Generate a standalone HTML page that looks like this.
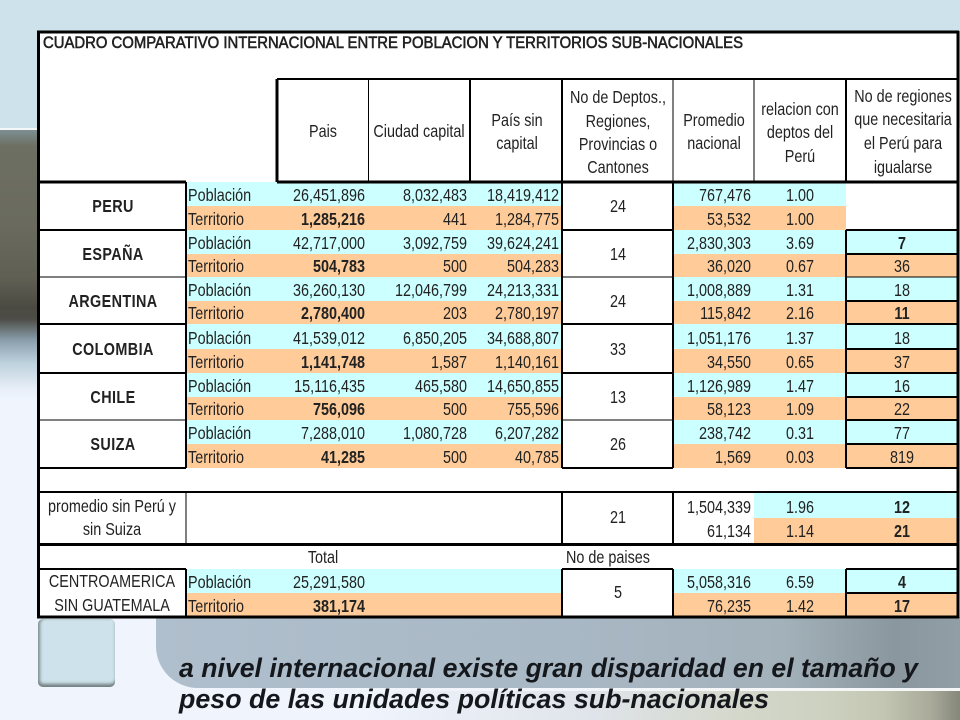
<!DOCTYPE html>
<html lang="es">
<head>
<meta charset="utf-8">
<title>Cuadro comparativo internacional</title>
<style>
html,body{margin:0;padding:0;width:960px;height:720px;overflow:hidden;background:#eff4fd}
.bg{position:absolute}
#sheet{position:absolute;left:0;top:0;width:960px;height:720px;filter:blur(0.3px)}
#sheet text{font-family:"Liberation Sans",sans-serif;font-size:18px;fill:#222}
#sheet rect{shape-rendering:crispEdges}
</style>
</head>
<body>
<div class="bg" style="left:0;top:0;width:960px;height:720px;background:#eff4fd"></div>
<div class="bg" style="left:0;top:0;width:960px;height:128px;background:#cde2ea"></div>
<div class="bg" style="left:0;top:128px;width:960px;height:2px;background:#f4f7f6"></div>
<div class="bg" style="left:0;top:130px;width:40px;height:270px;background:linear-gradient(180deg,#7d8f92 0,#6d6f62 6%,#6a6b5e 35%,#5f5f54 55%,#4b4a42 66%,#4d4d47 70%,#8ba0ad 78%,#bcd0dc 86%,#e8eff8 96%,#eff4fd 100%)"></div>
<div class="bg" style="left:156px;top:617px;width:804px;height:71px;border-bottom-left-radius:42px;background:linear-gradient(90deg,#b0bfcd 0,#a9b8c5 50%,#a3b1ba 78%,#8a979e 92%,#919ea6 100%)"></div>
<div class="bg" style="left:190px;top:688px;width:770px;height:3px;background:linear-gradient(90deg,rgba(244,246,248,0) 0,rgba(244,246,248,.6) 45%,#f4f6f8 75%)"></div>
<div class="bg" style="left:0;top:691px;width:960px;height:29px;background:linear-gradient(90deg,#eff4fd 0,#eff4fd 38%,#dfe4ea 62%,#d6dad0 74%,#cdd1bf 86%,#c3c6b3 92%,#a9aa9a 97%,#85877a 100%)"></div>
<div class="bg" style="left:38px;top:619px;width:77px;height:68px;box-sizing:border-box;border-radius:5px;background:#cde2ea;box-shadow:inset 3px 0 3px -1px #7f8d90,inset 0 -4px 3px -1px #6f7b7e"></div>
<svg id="sheet" xmlns="http://www.w3.org/2000/svg" width="960" height="720" viewBox="0 0 960 720"></svg>
<script>
const countries = ['PERU','ESPAÑA','ARGENTINA','COLOMBIA','CHILE','SUIZA'];
const popPais = ['26,451,896','42,717,000','36,260,130','41,539,012','15,116,435','7,288,010'];
const popCapital = ['8,032,483','3,092,759','12,046,799','6,850,205','465,580','1,080,728'];
const popSinCapital = ['18,419,412','39,624,241','24,213,331','34,688,807','14,650,855','6,207,282'];
const terrPais = ['1,285,216','504,783','2,780,400','1,141,748','756,096','41,285'];
const terrCapital = ['441','500','203','1,587','500','500'];
const terrSinCapital = ['1,284,775','504,283','2,780,197','1,140,161','755,596','40,785'];
const deptos = ['24','14','24','33','13','26'];
const popPromedio = ['767,476','2,830,303','1,008,889','1,051,176','1,126,989','238,742'];
const terrPromedio = ['53,532','36,020','115,842','34,550','58,123','1,569'];
const popRelacion = ['1.00','3.69','1.31','1.37','1.47','0.31'];
const terrRelacion = ['1.00','0.67','2.16','0.65','1.09','0.03'];
const popRegiones = ['','7','18','18','16','77'];
const terrRegiones = ['','36','11','37','22','819'];
const popRegionesBold = [false,true,false,false,false,false];
const terrRegionesBold = [false,false,true,false,false,false];

const NS = 'http://www.w3.org/2000/svg';
const sheet = document.getElementById('sheet');
const CYAN = '#ccffff';
const ORANGE = '#ffcc99';
const SX = 0.8;

function rect(name, x0, y0, x1, y1, fill) {
  const el = document.createElementNS(NS, 'rect');
  
  
  el.setAttribute('x', x0);
  el.setAttribute('y', y0);
  el.setAttribute('width', x1 - x0);
  el.setAttribute('height', y1 - y0);
  el.setAttribute('fill', fill);
  sheet.appendChild(el);
  return el;
}
function hline(name, x0, x1, y, w) {
  return rect(name, x0, y - w / 2, x1, y + w / 2, '#000');
}
function vline(name, x, y0, y1, w) {
  return rect(name, x - w / 2, y0, x + w / 2, y1, '#000');
}
function txt(name, s, x, y, anchor, bold) {
  const el = document.createElementNS(NS, 'text');
  
  
  el.setAttribute('transform', 'translate(' + x + ' ' + y + ') scale(' + SX + ' 1)');
  el.setAttribute('text-anchor', anchor);
  if (bold) el.setAttribute('font-weight', 'bold');
  el.textContent = s;
  sheet.appendChild(el);
  return el;
}
function rowY(i) { return 182 + Math.round(i * 47.6 - (i === 3 ? 0.8 : 0) + (i === 4 ? 0.6 : 0)); }

rect('table-background', 38, 31, 958, 617, '#ffffff');

countries.forEach(function (c, i) {
  const top = rowY(i), bot = rowY(i + 1), mid = Math.round((top + bot) / 2);
  const key = c.toLowerCase();
  rect(key + '-poblacion-band', 186, top, 562, mid, CYAN);
  rect(key + '-territorio-band', 186, mid, 562, bot, ORANGE);
  rect(key + '-promedio-poblacion-band', 673, top, 846, mid, CYAN);
  rect(key + '-promedio-territorio-band', 673, mid, 846, bot, ORANGE);
  if (popRegiones[i] !== '') {
    rect(key + '-regiones-poblacion-band', 846, top, 958, mid, CYAN);
    rect(key + '-regiones-territorio-band', 846, mid, 958, bot, ORANGE);
    hline(key + '-regiones-divider', 846, 958, mid, 2);
    hline(key + '-regiones-top', 846, 958, top, i === 2 ? 1 : 2);
  }
  const lw = (i === 2 || i === 5) ? 1 : 2;
  hline(key + '-name-top', 39, 186, top, i === 0 ? 3 : lw);
  hline(key + '-deptos-top', 562, 673, top, i === 0 ? 3 : lw);

  const b1 = mid - 5, b2 = bot - 5;
  txt(key + '-name', c, 113, mid + 6, 'middle', true).setAttribute('letter-spacing', '0.5');
  txt(key + '-poblacion-label', 'Población', 188, b1, 'start');
  txt(key + '-territorio-label', 'Territorio', 188, b2, 'start');
  txt(key + '-poblacion-pais', popPais[i], 365, b1, 'end');
  txt(key + '-territorio-pais', terrPais[i], 365, b2, 'end', true);
  txt(key + '-poblacion-capital', popCapital[i], 467, b1, 'end');
  txt(key + '-territorio-capital', terrCapital[i], 467, b2, 'end');
  txt(key + '-poblacion-sin-capital', popSinCapital[i], 559, b1, 'end');
  txt(key + '-territorio-sin-capital', terrSinCapital[i], 559, b2, 'end');
  txt(key + '-deptos', deptos[i], 618, mid + 6, 'middle');
  txt(key + '-poblacion-promedio', popPromedio[i], 751, b1, 'end');
  txt(key + '-territorio-promedio', terrPromedio[i], 751, b2, 'end');
  txt(key + '-poblacion-relacion', popRelacion[i], 800, b1, 'middle');
  txt(key + '-territorio-relacion', terrRelacion[i], 800, b2, 'middle');
  if (popRegiones[i] !== '') {
    txt(key + '-poblacion-regiones', popRegiones[i], 902, b1, 'middle', popRegionesBold[i]);
    txt(key + '-territorio-regiones', terrRegiones[i], 902, b2, 'middle', terrRegionesBold[i]);
  }
});

hline('countries-bottom-left', 39, 186, 468, 2);
hline('countries-bottom-deptos', 562, 673, 468, 2);
hline('countries-bottom-regiones', 846, 958, 468, 2);
vline('label-column-line', 186, 182, 468, 2);
vline('deptos-left-line', 562, 182, 468, 2);
vline('deptos-right-line', 673, 182, 468, 2);
vline('regiones-left-line', 846, 230, 468, 2);

hline('header-top-line', 277, 958, 79, 2);
hline('header-bottom-line', 277, 958, 182, 3);
vline('header-pais-left', 277, 79, 182, 3);
vline('header-capital-left', 368.5, 79, 182, 1);
vline('header-sin-capital-left', 470, 79, 182, 2);
vline('header-deptos-left', 562, 79, 182, 2);
vline('header-promedio-left', 673, 79, 182, 1);
vline('header-relacion-left', 754, 79, 182, 1);
vline('header-regiones-left', 846, 79, 182, 2);

const title = txt('table-title', 'CUADRO COMPARATIVO INTERNACIONAL ENTRE POBLACION Y TERRITORIOS SUB-NACIONALES', 43, 48, 'start');
title.setAttribute('transform', 'translate(43 48)');
title.setAttribute('textLength', '700');
title.setAttribute('lengthAdjust', 'spacingAndGlyphs');
title.setAttribute('stroke', '#222');
title.setAttribute('stroke-width', '0.6');
title.style.fontSize = '17px';

txt('header-pais', 'Pais', 323, 137, 'middle');
txt('header-ciudad-capital', 'Ciudad capital', 419, 137, 'middle');
txt('header-sin-capital-1', 'País sin', 517, 126, 'middle');
txt('header-sin-capital-2', 'capital', 517, 149, 'middle');
txt('header-deptos-1', 'No de Deptos.,', 618, 103, 'middle');
txt('header-deptos-2', 'Regiones,', 618, 127, 'middle');
txt('header-deptos-3', 'Provincias o', 618, 150, 'middle');
txt('header-deptos-4', 'Cantones', 618, 173, 'middle');
txt('header-promedio-1', 'Promedio', 714, 126, 'middle');
txt('header-promedio-2', 'nacional', 714, 149, 'middle');
txt('header-relacion-1', 'relacion con', 800, 115, 'middle');
txt('header-relacion-2', 'deptos del', 800, 138, 'middle');
txt('header-relacion-3', 'Perú', 800, 162, 'middle');
txt('header-regiones-1', 'No de regiones', 903, 102, 'middle');
txt('header-regiones-2', 'que necesitaria', 903, 125, 'middle');
txt('header-regiones-3', 'el Perú para', 903, 149, 'middle');
txt('header-regiones-4', 'igualarse', 903, 173, 'middle');

rect('promedio-relacion-poblacion-band', 754, 492, 958, 518, CYAN);
rect('promedio-relacion-territorio-band', 754, 518, 958, 543, ORANGE);
hline('promedio-top-line', 39, 958, 492, 2);
hline('promedio-bottom-line', 39, 958, 544.5, 3);
vline('promedio-label-line', 186, 492, 543, 1);
vline('promedio-deptos-left', 562, 492, 543, 2);
vline('promedio-deptos-right', 673, 492, 543, 2);
txt('promedio-label-1', 'promedio sin Perú y', 112, 512, 'middle');
txt('promedio-label-2', 'sin Suiza', 112, 535, 'middle');
txt('promedio-deptos', '21', 618, 523, 'middle');
txt('promedio-poblacion', '1,504,339', 751, 513, 'end');
txt('promedio-territorio', '61,134', 751, 537, 'end');
txt('promedio-relacion-poblacion', '1.96', 800, 513, 'middle');
txt('promedio-relacion-territorio', '1.14', 800, 537, 'middle');
txt('promedio-regiones-poblacion', '12', 902, 513, 'middle', true);
txt('promedio-regiones-territorio', '21', 902, 537, 'middle', true);

txt('total-heading', 'Total', 323, 563, 'middle');
txt('paises-heading', 'No de paises', 566, 563, 'start');
rect('centroamerica-poblacion-band', 186, 569, 562, 593, CYAN);
rect('centroamerica-territorio-band', 186, 593, 562, 617, ORANGE);
rect('centroamerica-promedio-poblacion-band', 673, 569, 958, 593, CYAN);
rect('centroamerica-promedio-territorio-band', 673, 593, 958, 617, ORANGE);
hline('centroamerica-name-top', 39, 186, 569, 2);
hline('centroamerica-deptos-top', 562, 673, 569, 2);
hline('centroamerica-regiones-top', 846, 958, 569, 2);
hline('centroamerica-regiones-divider', 846, 958, 593, 2);
vline('centroamerica-label-line', 186, 569, 617, 2);
vline('centroamerica-deptos-left', 562, 569, 617, 2);
vline('centroamerica-deptos-right', 673, 569, 617, 2);
vline('centroamerica-regiones-left', 846, 569, 617, 2);
txt('centroamerica-name-1', 'CENTROAMERICA', 112, 587, 'middle');
txt('centroamerica-name-2', 'SIN GUATEMALA', 112, 611, 'middle');
txt('centroamerica-poblacion-label', 'Población', 188, 588, 'start');
txt('centroamerica-territorio-label', 'Territorio', 188, 612, 'start');
txt('centroamerica-poblacion-total', '25,291,580', 365, 588, 'end');
txt('centroamerica-territorio-total', '381,174', 365, 612, 'end', true);
txt('centroamerica-deptos', '5', 618, 598, 'middle');
txt('centroamerica-poblacion-promedio', '5,058,316', 751, 588, 'end');
txt('centroamerica-territorio-promedio', '76,235', 751, 612, 'end');
txt('centroamerica-poblacion-relacion', '6.59', 800, 588, 'middle');
txt('centroamerica-territorio-relacion', '1.42', 800, 612, 'middle');
txt('centroamerica-poblacion-regiones', '4', 902, 588, 'middle', true);
txt('centroamerica-territorio-regiones', '17', 902, 612, 'middle', true);

hline('table-border-top', 37, 959, 32, 3);
hline('table-border-bottom', 37, 959, 617, 3);
vline('table-border-left', 38.5, 31, 618, 3);
vline('table-border-right', 958, 31, 618, 3);

[['caption-line-1', 'a nivel internacional existe gran disparidad en el tamaño y', 677, 739],
 ['caption-line-2', 'peso de las unidades políticas sub-nacionales', 708, 590]].forEach(function (c) {
  const el = document.createElementNS(NS, 'text');
  
  
  el.setAttribute('x', 179);
  el.setAttribute('y', c[2]);
  el.setAttribute('textLength', c[3]);
  el.setAttribute('lengthAdjust', 'spacingAndGlyphs');
  el.setAttribute('font-weight', 'bold');
  el.setAttribute('font-style', 'italic');
  el.style.fontSize = '27px';
  el.style.fill = '#14181c';
  el.textContent = c[1];
  sheet.appendChild(el);
});
</script>
</body>
</html>
